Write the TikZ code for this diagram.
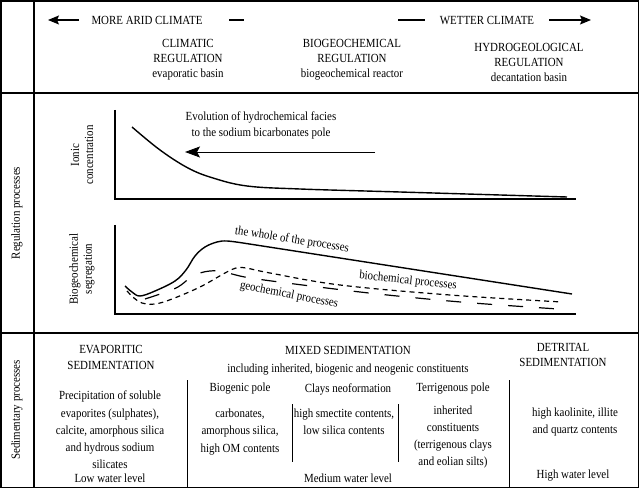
\documentclass[tikz,border=0pt]{standalone}
\usepackage{fontspec}
\setmainfont{Liberation Serif}[FakeStretch=0.88]
\usetikzlibrary{arrows.meta}
\begin{document}
\begin{tikzpicture}[x=1pt,y=-1pt,
  txt/.style={font=\fontsize{12.4}{15}\selectfont,align=center,inner sep=0pt},
  txtb/.style={font=\fontsize{12.4}{17.3}\selectfont,align=center,inner sep=0pt},
  frame/.style={line width=1.5pt},
  axis/.style={line width=1.3pt},
  curve/.style={line width=1.4pt,line join=round},
  shortdash/.style={line width=1.2pt,dash pattern=on 5pt off 4pt},
  longdash/.style={line width=1.2pt,dash pattern=on 15pt off 16pt},
  sep/.style={line width=1pt},
  bigtip/.style={-{Stealth[length=11pt,width=9pt,inset=2pt]}}
]
\useasboundingbox (0,0) rectangle (640,489);
% frame
\draw[frame] (1,1) rectangle (638.5,487.5);
\draw[frame] (34,1) -- (34,487.5);
\draw[frame] (1,93) -- (638.5,93);
\draw[frame] (1,333) -- (638.5,333);

% top section
\coordinate (la1) at (79,20); \coordinate (la2) at (48,20);
\draw[line width=1.3pt,bigtip] (la1) -- (la2);
\node[txt] (arid) at (147,20) {MORE ARID CLIMATE};
\coordinate (d1a) at (229,20); \coordinate (d1b) at (244,20);
\draw[line width=1.1pt] (d1a) -- (d1b);
\coordinate (d2a) at (398,20); \coordinate (d2b) at (425,20);
\draw[line width=1.1pt] (d2a) -- (d2b);
\node[txt] (wet) at (487,20) {WETTER CLIMATE};
\coordinate (ra1) at (549,20); \coordinate (ra2) at (591,20);
\draw[line width=1.3pt,bigtip] (ra1) -- (ra2);

\node[txt] (clim) at (188,60) {CLIMATIC\\REGULATION\\evaporatic basin};
\node[txt] (biogeo) at (352,60) {BIOGEOCHEMICAL\\REGULATION\\biogeochemical reactor};
\node[txt] (hydro) at (529,62) {HYDROGEOLOGICAL\\REGULATION\\decantation basin};

% side labels
\node[txt,rotate=90] (regproc) at (17,213) {Regulation processes};
\node[txt,rotate=90] (sedproc) at (17,410) {Sedimentary processes};
\node[txt,font=\fontsize{12.4}{14}\selectfont,rotate=90] (ionic) at (82,155) {Ionic\\concentration};
\node[txt,font=\fontsize{12.4}{14}\selectfont,rotate=90] (bioseg) at (82,269) {Biogeochemical\\segregation};

% upper graph
\coordinate (o1) at (115,199);
\draw[axis] (115,110) -- (o1) -- (576,199);
\draw[curve] plot[smooth,tension=0.6] coordinates {(132,127) (160,150) (188,168) (213,178) (247,186) (300,189) (400,192) (567,197)};
\coordinate (ev1) at (375,152); \coordinate (ev2) at (185,152);
\draw[line width=0.9pt,-{Stealth[length=15pt,width=11pt,inset=3pt]}] (ev1) -- (ev2);
\node[txt,font=\fontsize{12.4}{16}\selectfont] (evol) at (261,125) {Evolution of hydrochemical facies\\to the sodium bicarbonates pole};

% lower graph
\coordinate (o2) at (115,314);
\draw[axis] (115,225) -- (o2) -- (576,314);
\draw[curve] plot[smooth,tension=0.6] coordinates {(125,286) (132,292) (140,296) (155,291) (175,281) (186,270) (195,256) (205,247) (217,242) (227,241) (243,243)} -- (572,294);
\draw[shortdash] plot[smooth,tension=0.6] coordinates {(127,291) (134,298) (142,303) (155,304) (172,299) (200,287) (225,273) (236,268) (246,268) (270,273) (340,285) (450,295) (562,302)};
\draw[longdash] plot[smooth,tension=0.6] coordinates {(145,299) (163,293) (178,287) (190,278) (200,273) (210,271) (220,271) (232,274) (257,279) (343,290) (407,297) (473,303) (558,309)};
\node[txt,rotate=-9] (whole) at (292,240) {the whole of the processes};
\node[txt,rotate=-6] (biochem) at (408,281) {biochemical processes};
\node[txt,rotate=-11] (geochem) at (289,295) {geochemical processes};

% bottom section
\draw[sep] (187,380) -- (187,487.5);
\draw[sep] (292,404) -- (292,462);
\draw[sep] (398,404) -- (398,462);
\draw[sep] (509,380) -- (509,487.5);

\node[txt,font=\fontsize{12.4}{16}\selectfont] (evap) at (111,357) {EVAPORITIC\\SEDIMENTATION};
\node[txt] (mixed) at (348,350) {MIXED SEDIMENTATION};
\node[txt] (incl) at (348,370) {including inherited, biogenic and neogenic constituents};
\node[txt] (detr) at (563,355) {DETRITAL\\SEDIMENTATION};

\node[txtb] (precip) at (110,430) {Precipitation of soluble\\evaporites (sulphates),\\calcite, amorphous silica\\and hydrous sodium\\silicates};
\node[txt] (bpole) at (240,389) {Biogenic pole};
\node[txt] (clays) at (348,389) {Clays neoformation};
\node[txt] (tpole) at (453,389) {Terrigenous pole};
\node[txtb] (carb) at (240,432) {carbonates,\\amorphous silica,\\high OM contents};
\node[txtb] (smec) at (344,422) {high smectite contents,\\low silica contents};
\node[txtb] (inher) at (453,437) {inherited\\constituents\\(terrigenous clays\\and eolian silts)};
\node[txtb] (kaol) at (575,422) {high kaolinite, illite\\and quartz contents};

\node[txt] (low) at (110,478) {Low water level};
\node[txt] (med) at (348,478) {Medium water level};
\node[txt] (high) at (573,476) {High water level};
\end{tikzpicture}
\end{document}
